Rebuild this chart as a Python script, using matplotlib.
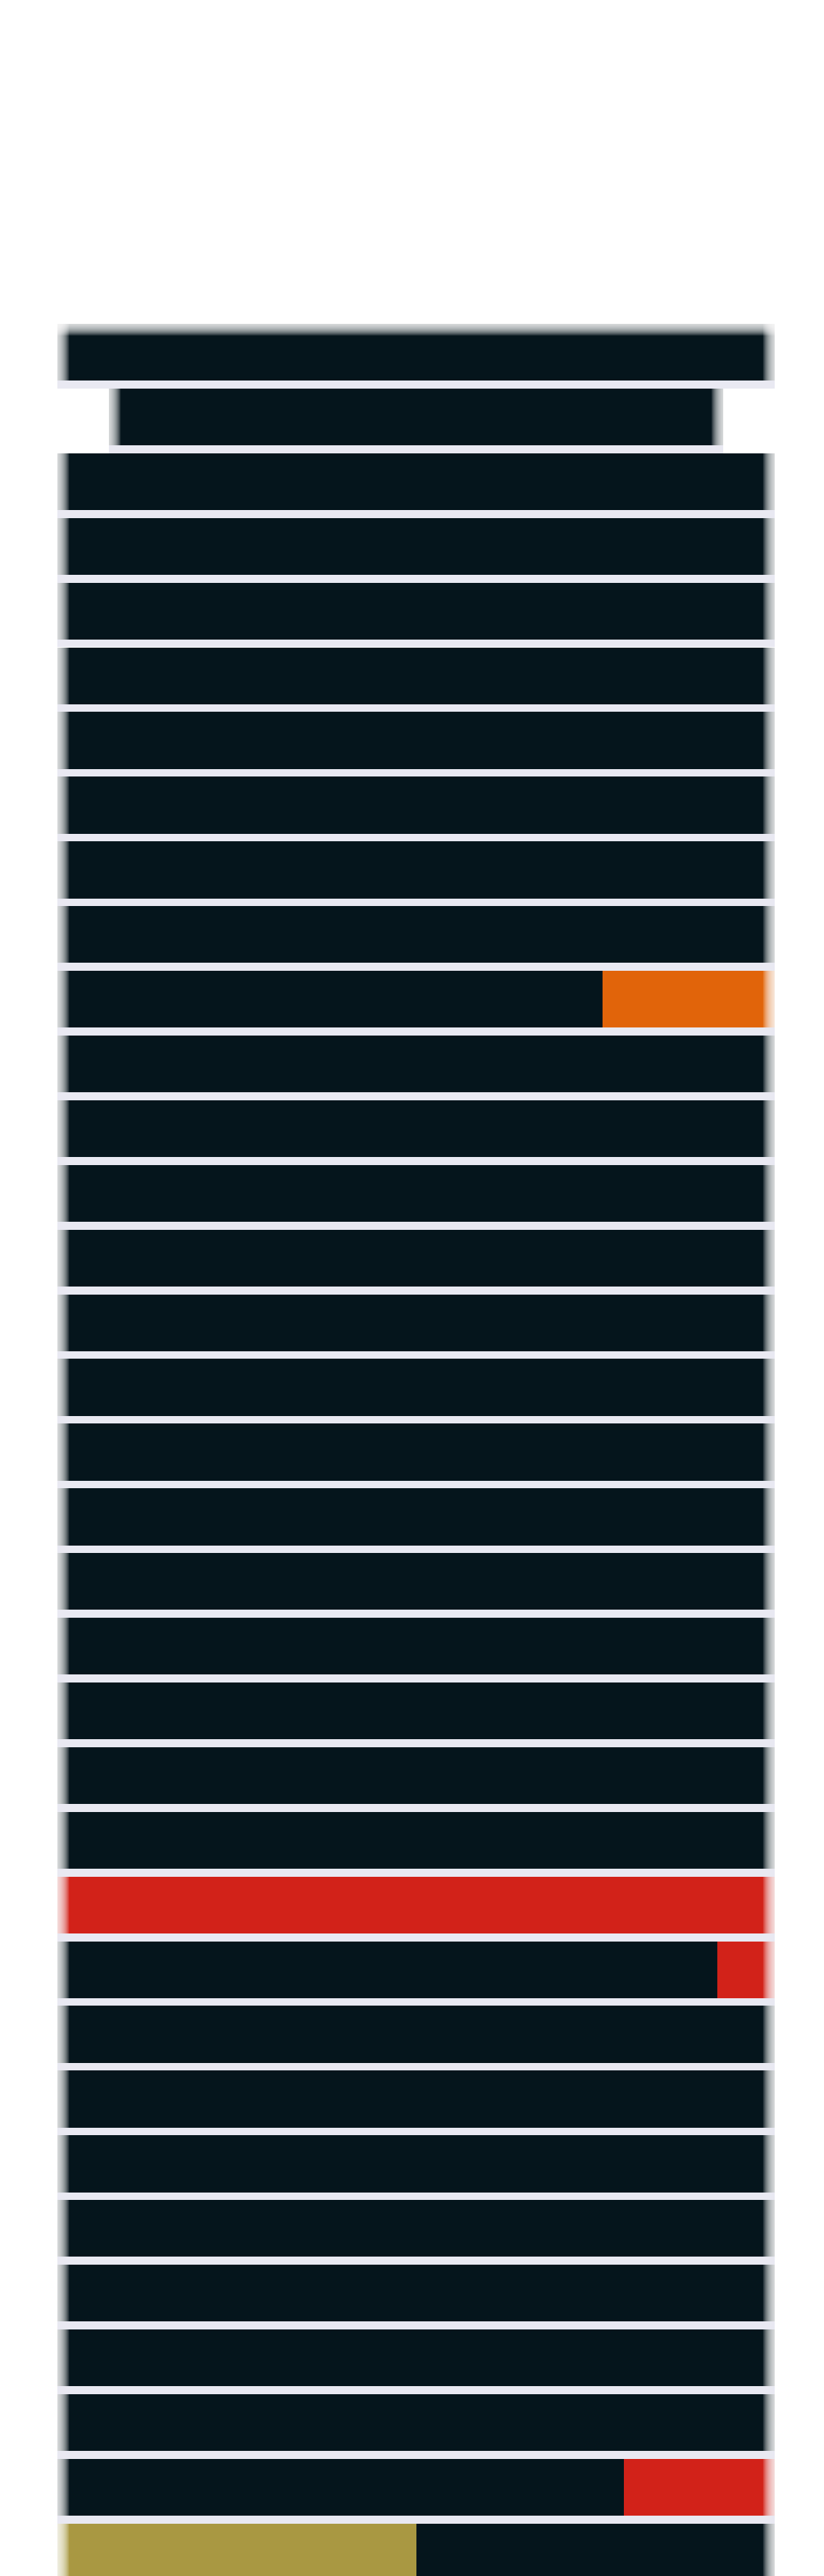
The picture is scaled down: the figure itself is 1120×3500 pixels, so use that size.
import numpy as np
import matplotlib
matplotlib.use('Agg')
import matplotlib.pyplot as plt

# one entry per row, top to bottom
row_width = [1.0, 0.857, 1.0, 1.0, 1.0, 1.0, 1.0, 1.0, 1.0, 1.0,
             1.0, 1.0, 1.0, 1.0, 1.0, 1.0, 1.0, 1.0, 1.0, 1.0,
             1.0, 1.0, 1.0, 1.0, 1.0, 1.0, 1.0, 1.0, 1.0, 1.0,
             1.0, 1.0, 1.0, 1.0, 1.0]
first_share = [1.0, 1.0, 1.0, 1.0, 1.0, 1.0, 1.0, 1.0, 1.0, 1.0,
               0.76, 1.0, 1.0, 1.0, 1.0, 1.0, 1.0, 1.0, 1.0, 1.0,
               1.0, 1.0, 1.0, 1.0, 1.0, 0.92, 1.0, 1.0, 1.0, 1.0,
               1.0, 1.0, 1.0, 0.79, 0.5]
first_kind = ['navy'] * 24 + ['red'] + ['navy'] * 9 + ['gold']
second_kind = ['navy'] * 10 + ['orange'] + ['navy'] * 14 + ['red'] + \
    ['navy'] * 7 + ['red', 'navy']

colors = {'navy': '#05151c', 'orange': '#e1640a',
          'red': '#d22219', 'gold': '#a99842'}
strip = '#e9e9f2'

n = len(row_width)
y = np.arange(n)
w = np.array(row_width)
share = np.array(first_share)
left = -w / 2
w1 = w * share
w2 = w - w1

fig = plt.figure(figsize=(11.2, 35), dpi=100, facecolor='white')
ax = fig.add_axes([78 / 1120, 0, 975 / 1120, 3060 / 3500])
ax.set_xlim(-0.5, 0.5)
ax.set_ylim(3060 / 87.9, 0)
ax.axis('off')

bar_h = 0.88
# light strip under each bar
ax.barh(y, w, left=left, height=1.0, align='edge', color=strip, linewidth=0)
ax.barh(y, w1, left=left, height=bar_h, align='edge',
        color=[colors[k] for k in first_kind], linewidth=0)
ax.barh(y, w2, left=left + w1, height=bar_h, align='edge',
        color=[colors[k] for k in second_kind], linewidth=0)

# soft fade on the outer edges of the silhouette
px = 1 / 975
for k in range(1, 17):
    d = k * px
    ax.barh(y, np.full(n, d), left=left, height=bar_h, align='edge',
            color='white', alpha=0.11, linewidth=0)
    ax.barh(y, np.full(n, d), left=left + w - d, height=bar_h, align='edge',
            color='white', alpha=0.11, linewidth=0)
    ax.barh(y[:1], w[:1], left=left[:1], height=k / 87.9, align='edge',
            color='white', alpha=0.11, linewidth=0)

fig.savefig('out.png', dpi=100, facecolor='white')
